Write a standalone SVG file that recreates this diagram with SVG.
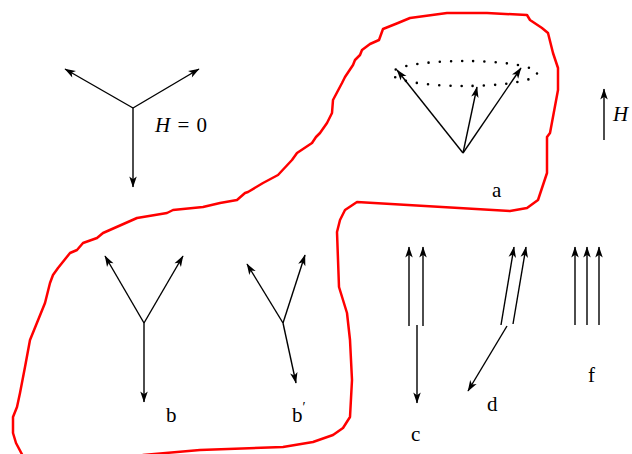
<svg xmlns="http://www.w3.org/2000/svg" width="632" height="454" viewBox="0 0 632 454">
<defs>
<marker id="ah" markerUnits="userSpaceOnUse" markerWidth="12" markerHeight="8" refX="10.5" refY="3.75" orient="auto" overflow="visible">
<path d="M0,0 L11,3.75 L0,7.5 L2.8,3.75 Z" fill="#000"/>
</marker>
<style>
.v{stroke:#000;stroke-width:1.4;fill:none;marker-end:url(#ah)}
.t{font-family:"Liberation Serif","Times New Roman",serif;font-size:21px;fill:#000}
.i{font-style:italic}
</style>
</defs>
<rect width="632" height="454" fill="#fff"/>
<g id="region">
<path d="M25,460 L16,443 L13,433 L13,417 L17,407 L20,393 L25,367 L30,340 L45,303 L50,283 L53,275 L58,268 L70,253 L77,250 L83,243 L97,238 L103,233 L137,218 L167,213 L173,210 L203,207 L220,203 L237,200 L245,193 L248,192 L263,183 L278,175 L292,160 L297,153 L312,143 L316,137 L320,133 L327,123 L332,113 L333,100 L342,83 L345,77 L353,65 L355,60 L360,55 L362,50 L370,44 L379,40 L383,29 L398,23 L410,18 L447,13 L487,13 L527,15 L530,20 L542,28 L548,33 L553,53 L558,68 L558,90 L550,133 L547,137 L547,173 L538,200 L527,208 L510,211 L357,202 L345,210 L340,220 L337,232 L339,287 L347,313 L350,340 L352,380 L350,417 L343,428 L333,435 L313,442 L283,447 L200,450 L143,455 L143,460 Z" fill="none" stroke="#f00" stroke-width="2.5" stroke-linejoin="round"/>
</g>
<g id="h0">
<line class="v" x1="133" y1="108" x2="65" y2="69"/>
<line class="v" x1="133" y1="108" x2="199" y2="69"/>
<line class="v" x1="133" y1="108" x2="133" y2="187"/>
<text class="t" x="155" y="132"><tspan class="i">H</tspan> <tspan dx="2">=</tspan> <tspan dx="2">0</tspan></text>
</g>
<g id="a">
<ellipse cx="464.5" cy="73.5" rx="72.5" ry="12.5" fill="none" stroke="#000" stroke-width="2.6" stroke-linecap="round" stroke-dasharray="0 11.17"/>
<line class="v" x1="463" y1="153" x2="397" y2="70"/>
<line class="v" x1="463" y1="153" x2="477" y2="87"/>
<line class="v" x1="463" y1="153" x2="521" y2="68"/>
<text class="t" x="492" y="197">a</text>
</g>
<g id="H">
<line class="v" x1="604" y1="140" x2="604" y2="89"/>
<text class="t i" x="613" y="121">H</text>
</g>
<g id="b">
<line class="v" x1="144" y1="323" x2="105" y2="256"/>
<line class="v" x1="144" y1="323" x2="183" y2="256"/>
<line class="v" x1="144" y1="323" x2="144" y2="402"/>
<text class="t" x="166" y="422">b</text>
</g>
<g id="bp">
<line class="v" x1="283" y1="323" x2="247" y2="264"/>
<line class="v" x1="283" y1="323" x2="305" y2="255"/>
<line class="v" x1="283" y1="323" x2="296" y2="383"/>
<text class="t" x="292" y="422">b<tspan font-size="14" dy="-10">′</tspan></text>
</g>
<g id="c">
<line class="v" x1="409" y1="326" x2="409" y2="247"/>
<line class="v" x1="423" y1="326" x2="423" y2="247"/>
<line class="v" x1="417" y1="325" x2="417" y2="403"/>
<text class="t" x="411" y="441">c</text>
</g>
<g id="d">
<line class="v" x1="501" y1="325" x2="514" y2="247"/>
<line class="v" x1="513" y1="324" x2="526" y2="247"/>
<line class="v" x1="507" y1="326" x2="468" y2="391"/>
<text class="t" x="487" y="411">d</text>
</g>
<g id="f">
<line class="v" x1="575" y1="325" x2="575" y2="247"/>
<line class="v" x1="587" y1="325" x2="587" y2="247"/>
<line class="v" x1="599" y1="325" x2="599" y2="247"/>
<text class="t" x="588" y="382">f</text>
</g>
</svg>
